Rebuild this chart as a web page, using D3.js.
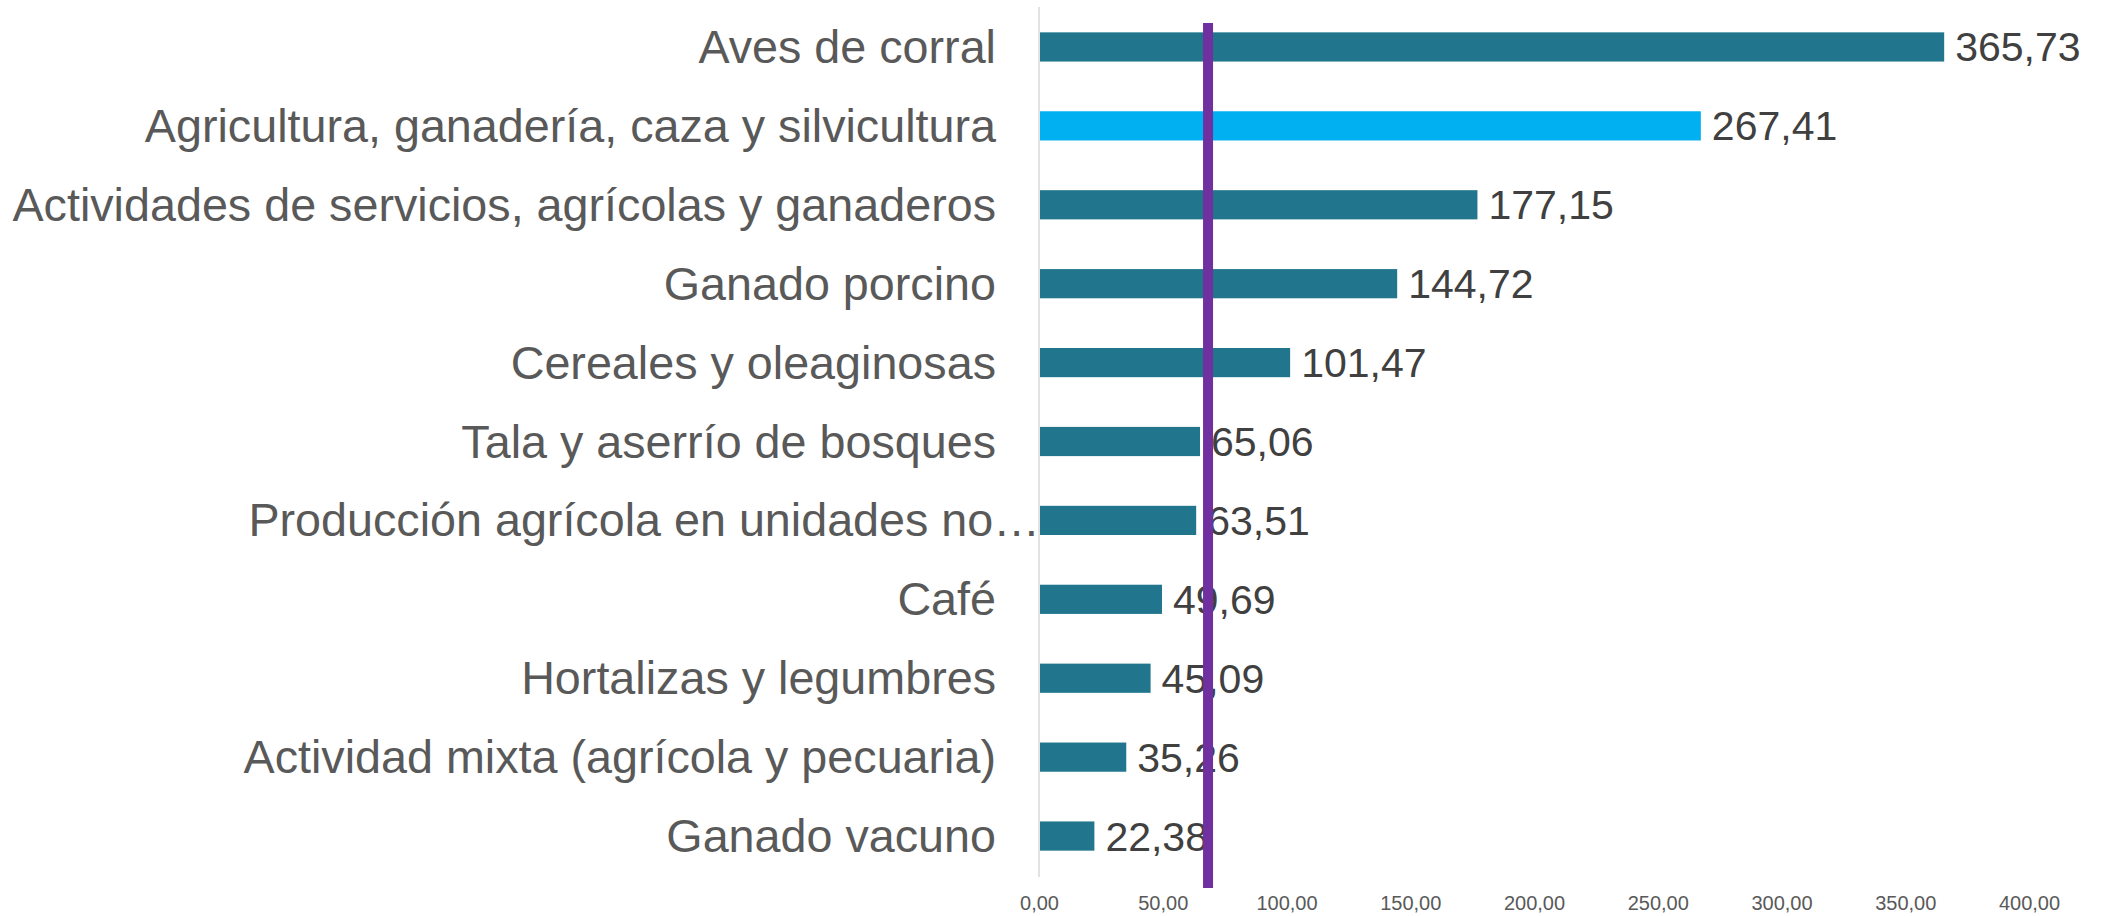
<!DOCTYPE html>
<html>
<head>
  <meta charset="utf-8">
  <title>Bar chart</title>
  <script src="https://d3js.org/d3.v7.min.js"></script>
  <style>
  body { margin: 0; background: #fff; font-family: 'Liberation Sans', Arial, sans-serif; }
  svg { display: block; }
  .cat { fill: #595959; font-size: 46.7px; }
  .val { fill: #404040; font-size: 41px; }
  .tick text { fill: #595959; font-size: 20px; font-family: 'Liberation Sans', Arial, sans-serif; }
  </style>
</head>
<body>
<svg id="chart"></svg>
<script>
// data
var categories = [
  "Aves de corral",
  "Agricultura, ganadería, caza y silvicultura",
  "Actividades de servicios, agrícolas y ganaderos",
  "Ganado porcino",
  "Cereales y oleaginosas",
  "Tala y aserrío de bosques",
  "Producción agrícola en unidades no…",
  "Café",
  "Hortalizas y legumbres",
  "Actividad mixta (agrícola y pecuaria)",
  "Ganado vacuno"
];
var values = [365.73, 267.41, 177.15, 144.72, 101.47, 65.06, 63.51, 49.69, 45.09, 35.26, 22.38];
var highlighted = ["Agricultura, ganadería, caza y silvicultura"];
var truncated = ["Producción agrícola en unidades no…"];
var referenceValue = 68.3;
var xTicks = [0, 50, 100, 150, 200, 250, 300, 350, 400];

var width = 2105, height = 916;
var svg = d3.select("#chart").attr("width", width).attr("height", height);

var rows = categories.map(function(c, i) { return {name: c, value: values[i]}; });

var x = d3.scaleLinear().domain([0, 400]).range([1039, 2029]);
var y = d3.scaleBand().domain(categories).range([7.5, 875.5]).padding(0);
var barH = y.bandwidth() * 0.37;
var fmt = function(v) { return d3.format(".2f")(v).replace(".", ","); };

// vertical axis line
svg.append("line")
  .attr("x1", x(0)).attr("x2", x(0))
  .attr("y1", 7).attr("y2", 877)
  .attr("stroke", "#d9d9d9").attr("stroke-width", 1.5);

// bars
svg.selectAll("rect.bar")
  .data(rows)
  .enter().append("rect")
  .attr("class", "bar")
  .attr("x", x(0) + 1)
  .attr("y", function(d) { return y(d.name) + y.bandwidth() / 2 - barH / 2; })
  .attr("width", function(d) { return x(d.value) - x(0) - 1; })
  .attr("height", barH)
  .attr("fill", function(d) { return highlighted.indexOf(d.name) >= 0 ? "#00b0f0" : "#21768d"; });

// category labels
svg.selectAll("text.cat")
  .data(rows)
  .enter().append("text")
  .attr("class", "cat")
  .attr("text-anchor", "end")
  .attr("x", function(d) { return truncated.indexOf(d.name) >= 0 ? x(0) + 1 : 996; })
  .attr("y", function(d) { return y(d.name) + y.bandwidth() / 2 + 16; })
  .text(function(d) { return d.name; });

// value labels
svg.selectAll("text.val")
  .data(rows)
  .enter().append("text")
  .attr("class", "val")
  .attr("x", function(d) { return x(d.value) + 11; })
  .attr("y", function(d) { return y(d.name) + y.bandwidth() / 2 + 14.5; })
  .text(function(d) { return fmt(d.value); });

// x axis labels only
var axis = svg.append("g")
  .attr("transform", "translate(0,888)")
  .call(d3.axisBottom(x).tickValues(xTicks).tickSize(0).tickPadding(8).tickFormat(fmt));
axis.select(".domain").remove();

// reference line
svg.append("line")
  .attr("x1", x(referenceValue)).attr("x2", x(referenceValue))
  .attr("y1", 23).attr("y2", 888)
  .attr("stroke", "#7030a0").attr("stroke-width", 10);
</script>
</body>
</html>
